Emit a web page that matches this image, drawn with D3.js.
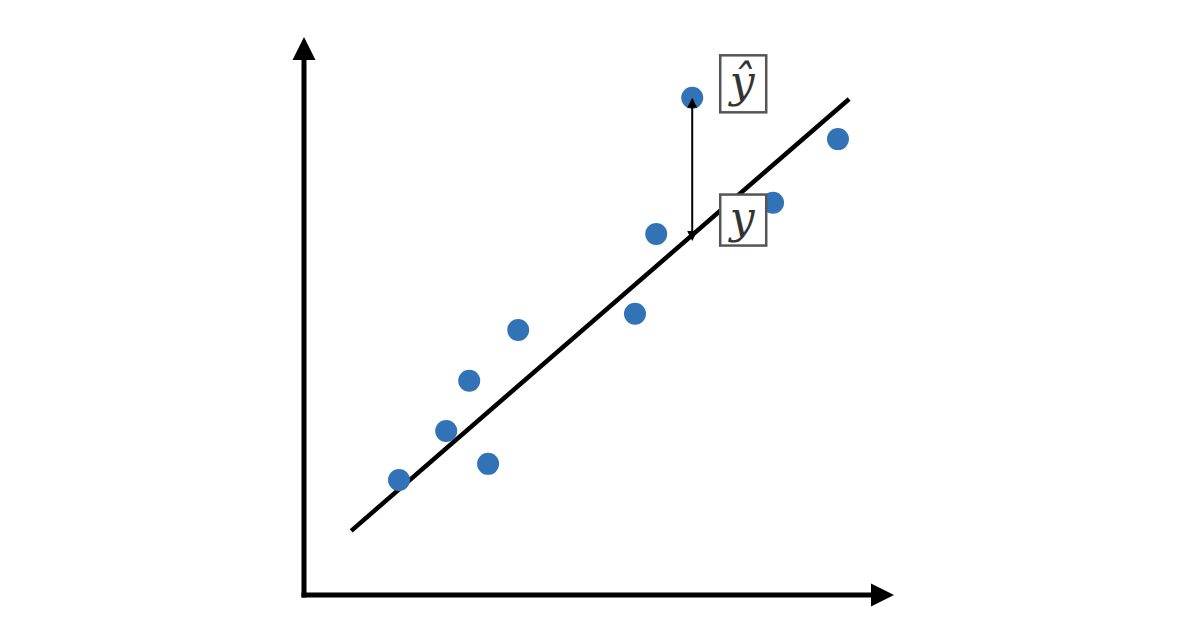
<!DOCTYPE html>
<html>
<head>
<meta charset="utf-8">
<script src="https://cdn.jsdelivr.net/npm/d3@7"></script>
<style>
body { margin: 0; background: #fff; }
svg { display: block; }
</style>
</head>
<body>
<svg width="1200" height="630"></svg>
<script>
'use strict';

// observed points
var pointX = [1.61, 2.41, 2.80, 3.12, 3.63, 5.61, 5.97, 6.58, 7.95, 9.05];
var pointY = [2.06, 2.94, 3.84, 2.35, 4.75, 5.04, 6.47, 8.91, 7.03, 8.17];

// fitted line end points
var lineX = [0.80, 9.24];
var lineY = [1.15, 8.89];

// the point whose residual is shown
var residualIdx = 7;

var labels = ['\u0177', 'y'];

var svg = d3.select('svg');
var x = d3.scaleLinear().domain([0, 10]).range([304, 894]);
var y = d3.scaleLinear().domain([0, 10]).range([595, 37]);

// fitted value on the line at a given x
function fitAt(v) {
	var t = (v - lineX[0]) / (lineX[1] - lineX[0]);
	return lineY[0] + t * (lineY[1] - lineY[0]);
}

var defs = svg.append('defs');
function marker(id, w, h, refX) {
	defs.append('marker')
		.attr('id', id)
		.attr('viewBox', '0 0 10 10')
		.attr('refX', refX).attr('refY', 5)
		.attr('markerUnits', 'userSpaceOnUse')
		.attr('markerWidth', w).attr('markerHeight', h)
		.attr('orient', 'auto-start-reverse')
		.append('path')
		.attr('d', 'M0,0L10,5L0,10Z')
		.attr('fill', '#000');
}
marker('axis-head', 23, 24, 3);
marker('small-head', 10, 11, 8);

// axes: line stops inside the head, the head tip reaches the scale end
var headOver = 23 * 0.7;
svg.append('path')
	.attr('d', 'M' + x(0) + ',' + (y(0) + 2.5) + 'L' + x(0) + ',' + (y(10) + headOver))
	.attr('stroke', '#000').attr('stroke-width', 5).attr('fill', 'none')
	.attr('marker-end', 'url(#axis-head)');
svg.append('path')
	.attr('d', 'M' + (x(0) - 2.5) + ',' + y(0) + 'L' + (x(10) - headOver) + ',' + y(0))
	.attr('stroke', '#000').attr('stroke-width', 5).attr('fill', 'none')
	.attr('marker-end', 'url(#axis-head)');

// regression line
svg.append('line')
	.attr('x1', x(lineX[0])).attr('y1', y(lineY[0]))
	.attr('x2', x(lineX[1])).attr('y2', y(lineY[1]))
	.attr('stroke', '#000').attr('stroke-width', 4.5);

// points
var points = pointX.map(function (v, i) { return { x: v, y: pointY[i] }; });
svg.selectAll('circle.pt')
		.data(points)
	.enter()
		.append('circle')
		.attr('class', 'pt')
		.attr('cx', function (d) { return x(d.x); })
		.attr('cy', function (d) { return y(d.y); })
		.attr('r', 11)
		.attr('fill', '#3273b8');

// residual arrow (double headed)
var rp = points[residualIdx];
svg.append('line')
	.attr('x1', x(rp.x)).attr('y1', y(rp.y) + 2)
	.attr('x2', x(rp.x)).attr('y2', y(fitAt(rp.x)) + 4)
	.attr('stroke', '#000').attr('stroke-width', 2)
	.attr('marker-start', 'url(#small-head)')
	.attr('marker-end', 'url(#small-head)');

// label boxes
var boxes = [
	{ text: labels[0], cy: y(rp.y) - 14, h: 57 },
	{ text: labels[1], cy: y(fitAt(rp.x)) - 15, h: 51 }
];
var g = svg.selectAll('g.lbl')
		.data(boxes)
	.enter()
		.append('g')
		.attr('class', 'lbl');
g.append('rect')
	.attr('x', x(rp.x) + 28)
	.attr('y', function (d) { return d.cy - d.h / 2; })
	.attr('width', 46)
	.attr('height', function (d) { return d.h; })
	.attr('fill', '#fff')
	.attr('stroke', '#555').attr('stroke-width', 2.5);
g.append('text')
	.attr('x', x(rp.x) + 50)
	.attr('y', function (d) { return d.cy + 13; })
	.attr('text-anchor', 'middle')
	.attr('font-family', 'DejaVu Serif, serif')
	.attr('font-style', 'italic')
	.attr('font-size', 44)
	.attr('fill', '#333')
	.text(function (d) { return d.text; });
</script>
</body>
</html>
